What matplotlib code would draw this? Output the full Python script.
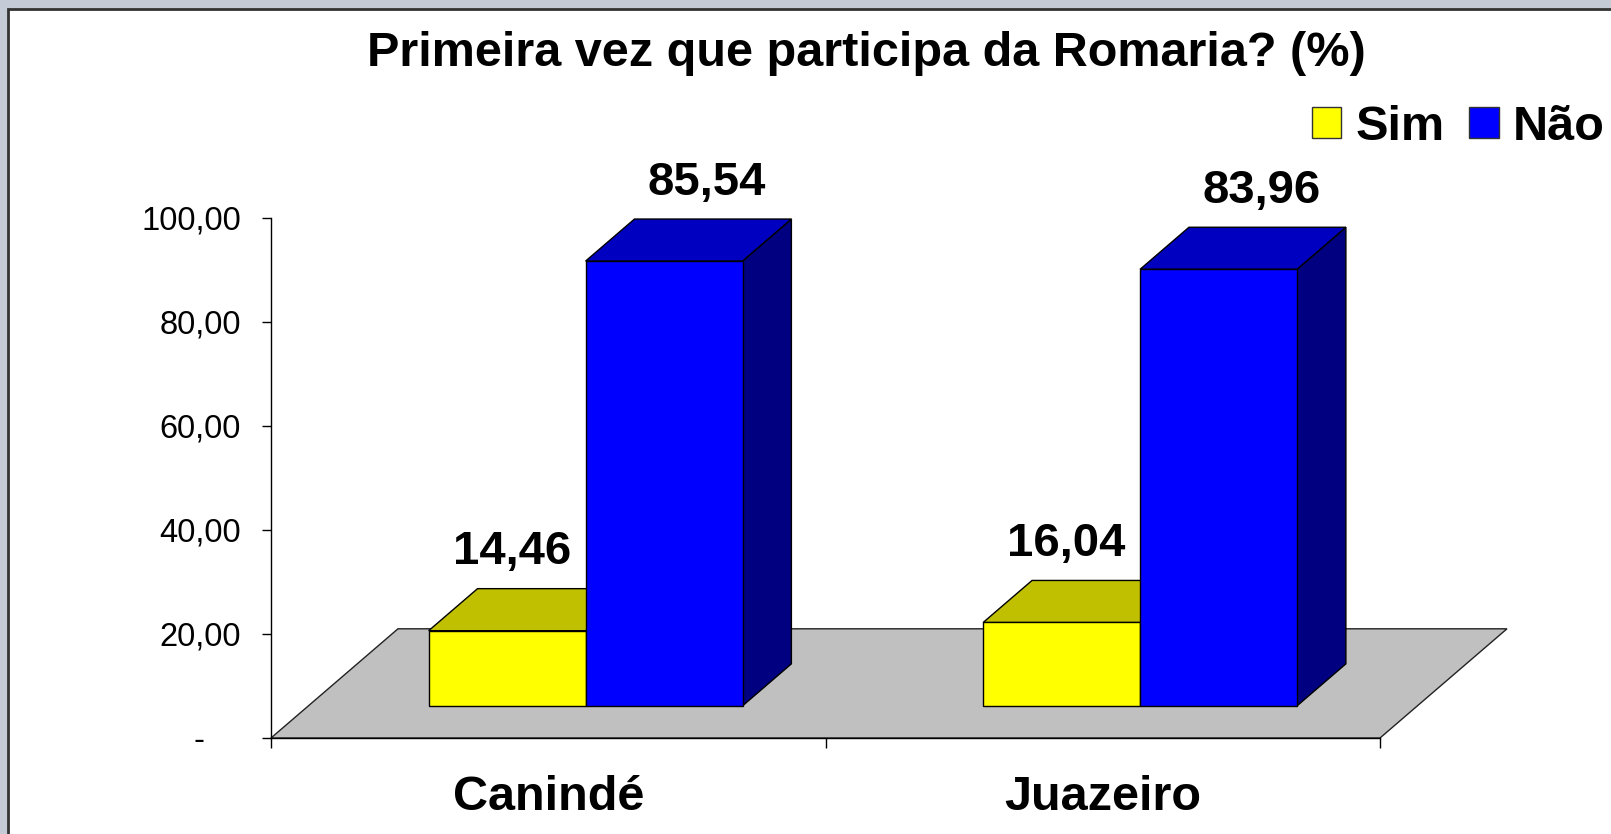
import matplotlib
matplotlib.use('Agg')
import matplotlib.pyplot as plt
from matplotlib.patches import Polygon, Rectangle, Patch

plt.rcParams['font.family'] = ['Liberation Sans', 'DejaVu Sans']

# Data
title = 'Primeira vez que participa da Romaria? (%)'
categories = ['Canindé', 'Juazeiro']
series = ['Sim', 'Não']
sim = [14.46, 16.04]
nao = [85.54, 83.96]
yticks = [0, 20, 40, 60, 80, 100]

front_colors = ['#ffff00', '#0000ff']
top_colors = ['#c0c000', '#0000c0']
side_colors = ['#808000', '#000080']

# pseudo 3D geometry (category units / value units)
DX, DY = 0.229, 21.0
Z0, Z1 = 0.294, 0.679
BW = 0.283
label_z = [0.33, 0.63]


def proj(x, y, z):
    return (x + z * DX, y + z * DY)


def fmt(v):
    return '-    ' if v == 0 else f'{v:.2f}'.replace('.', ',')


fig = plt.figure(figsize=(16.11, 8.34), dpi=100)
fig.patch.set_facecolor('#c4cbd6')
fig.add_artist(Rectangle((8 / 1611, -0.1), 1.2, (834 - 9) / 834 + 0.1,
                         transform=fig.transFigure, facecolor='white',
                         edgecolor='#333333', lw=2, zorder=-1))

ax = fig.add_axes([271 / 1611, 96 / 834, 1109 / 1611, 520 / 834])
ax.set_xlim(0, 2)
ax.set_ylim(0, 100)
ax.patch.set_visible(False)

# floor
floor = [proj(0, 0, 0), proj(2, 0, 0), proj(2, 0, 1), proj(0, 0, 1)]
ax.add_patch(Polygon(floor, closed=True, facecolor='#c0c0c0',
                     edgecolor='#222222', lw=1, clip_on=False, zorder=1))

# bars
data = [sim, nao]
for i, cat in enumerate(categories):
    c = i + 0.5
    for j, vals in enumerate(data):
        v = vals[i]
        x0 = c - BW + j * BW
        x1 = x0 + BW
        front = [proj(x0, 0, Z0), proj(x1, 0, Z0), proj(x1, v, Z0), proj(x0, v, Z0)]
        top = [proj(x0, v, Z0), proj(x1, v, Z0), proj(x1, v, Z1), proj(x0, v, Z1)]
        side = [proj(x1, 0, Z0), proj(x1, 0, Z1), proj(x1, v, Z1), proj(x1, v, Z0)]
        for poly, col in [(side, side_colors[j]), (top, top_colors[j]), (front, front_colors[j])]:
            ax.add_patch(Polygon(poly, closed=True, facecolor=col, edgecolor='black',
                                 lw=1, clip_on=False, zorder=2))
        lx, _ = proj(x0 + BW / 2, v, label_z[j])
        _, ly = proj(x0, v, Z1)
        ax.text(lx, ly + 7, fmt(v), ha='center', va='center', fontsize=34,
                fontweight='bold', zorder=5, clip_on=False)

# axes styling
for s in ['top', 'right']:
    ax.spines[s].set_visible(False)
ax.spines['left'].set_linewidth(1)
ax.spines['bottom'].set_linewidth(1)
ax.spines['bottom'].set_zorder(3)

ax.set_yticks(yticks, labels=[fmt(v) for v in yticks])
ax.tick_params(axis='y', direction='out', length=6.5, width=1, labelsize=23.5, pad=15)
ax.set_xticks([0, 1, 2], labels=['', '', ''])
ax.tick_params(axis='x', which='major', direction='out', length=7, width=1)
ax.set_xticks([0.5, 1.5], labels=categories, minor=True)
ax.tick_params(axis='x', which='minor', length=0, labelsize=35, pad=27)
for lbl in ax.get_xticklabels(minor=True):
    lbl.set_fontweight('bold')

fig.text(866 / 1611, 1 - 54 / 834, title, ha='center', va='center',
         fontsize=35, fontweight='bold')

handles = [Patch(facecolor=front_colors[k], edgecolor='#333333', label=series[k])
           for k in range(2)]
fig.legend(handles=handles, loc='upper right', bbox_to_anchor=(1605 / 1611, 1 - 105 / 834),
           ncol=2, frameon=False, prop=dict(weight='bold', size=35),
           handlelength=0.6, handleheight=0.6, handletextpad=0.3,
           columnspacing=0.5, borderaxespad=0, borderpad=0)

fig.savefig('out.png', dpi=100, facecolor=fig.get_facecolor())
